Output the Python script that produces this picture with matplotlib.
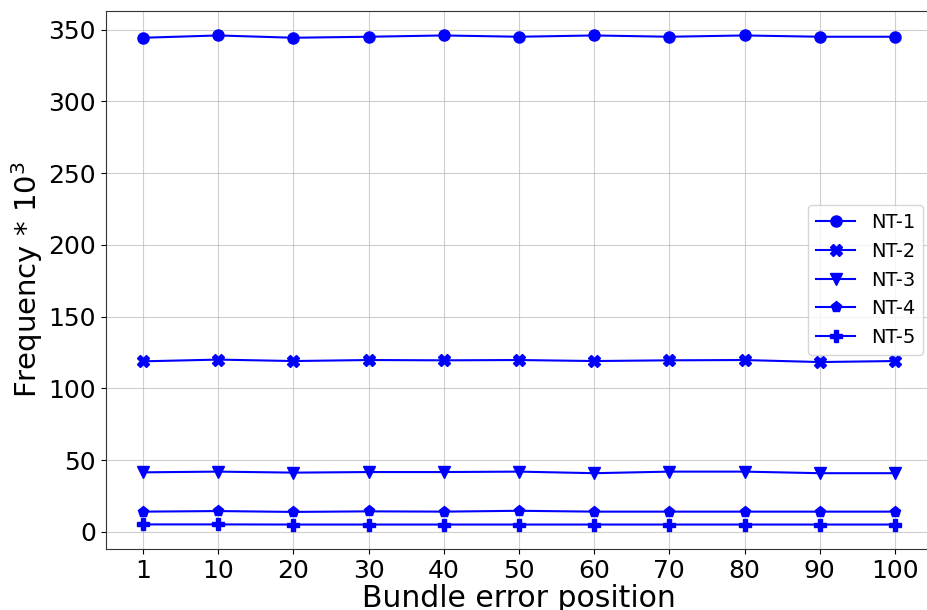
import matplotlib
matplotlib.use("Agg")
import matplotlib.pyplot as plt
import numpy as np

positions = ["1", "10", "20", "30", "40", "50", "60", "70", "80", "90", "100"]
nt1 = [344.4, 346.0, 344.4, 345.1, 346.0, 345.1, 346.0, 345.1, 346.0, 345.1, 345.1]
nt2 = [118.8, 120.0, 119.0, 119.7, 119.5, 119.7, 119.0, 119.5, 119.7, 118.3, 119.0]
nt3 = [41.4, 41.9, 41.2, 41.6, 41.6, 41.9, 40.8, 41.9, 41.9, 40.8, 40.8]
nt4 = [14.0, 14.4, 13.8, 14.2, 14.0, 14.6, 14.0, 14.0, 14.0, 14.0, 14.0]
nt5 = [5.1, 5.1, 5.0, 5.0, 5.0, 5.0, 5.0, 5.0, 5.0, 5.0, 5.0]
series = [("NT-1", nt1, "o"), ("NT-2", nt2, "X"), ("NT-3", nt3, "v"),
          ("NT-4", nt4, "p"), ("NT-5", nt5, "P")]

fig = plt.figure(figsize=(9.27, 6.10), dpi=100)
ax = fig.add_axes([105.5/927, 61/610, 827/927, 538/610])
x = np.arange(len(positions))
for name, vals, m in series:
    ax.plot(x, vals, color="blue", marker=m, markersize=8, linewidth=1.5, label=name)

ax.set_xticks(x)
ax.set_xticklabels(positions)
ax.tick_params(labelsize=18)
ax.grid(True, color="#b0b0b0", alpha=0.6)
for s in ax.spines.values():
    s.set_color("#333333")
ax.set_xlabel("Bundle error position", fontsize=21.5, labelpad=1)
ax.set_ylabel("Frequency * $10^3$", fontsize=21, labelpad=2)
ax.legend(loc="center right", fontsize=14, bbox_to_anchor=(1.0, 0.5), handlelength=2.0)
fig.savefig("out.png", dpi=100)
